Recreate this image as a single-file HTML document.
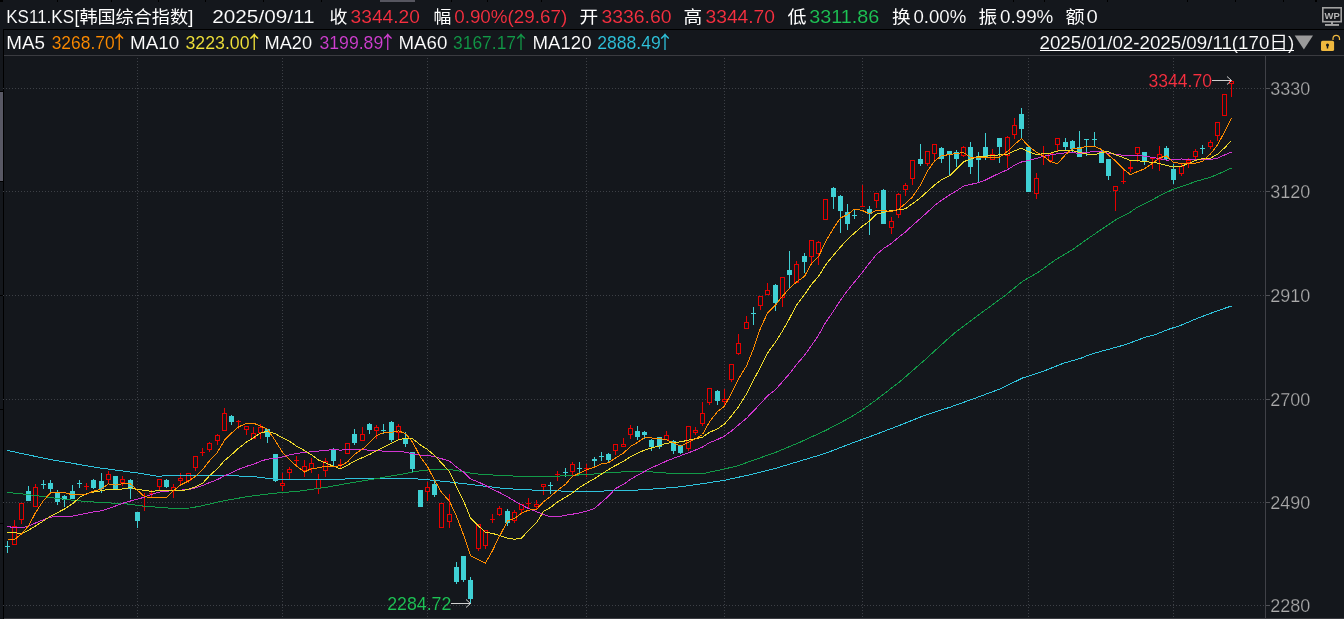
<!DOCTYPE html>
<html lang="zh"><head><meta charset="utf-8"><title>KS11.KS</title>
<style>html,body{margin:0;padding:0;background:#14171c;overflow:hidden}svg{display:block}text{font-family:"Liberation Sans","Noto Sans CJK SC",sans-serif;font-size:18px;stroke:#14171c;stroke-width:0.1px}.cj{font-family:"Noto Sans CJK SC","Liberation Sans",sans-serif;font-size:17.3px;stroke:none}.r1{font-size:19px}</style></head><body>
<svg width="1344" height="619" viewBox="0 0 1344 619">
<rect x="0" y="0" width="1344" height="619" fill="#14171c"/>
<g shape-rendering="crispEdges">
<rect x="0" y="0" width="3" height="2" fill="#000"/>
<rect x="57" y="0" width="1" height="2" fill="#000"/>
<rect x="111" y="0" width="1" height="2" fill="#000"/>
<rect x="158" y="0" width="1" height="2" fill="#000"/>
<rect x="205" y="0" width="1" height="2" fill="#000"/>
<rect x="263" y="0" width="1" height="2" fill="#000"/>
<rect x="321" y="0" width="1" height="2" fill="#000"/>
<rect x="451" y="0" width="1" height="2" fill="#000"/>
<rect x="487" y="0" width="1" height="2" fill="#000"/>
<rect x="541" y="0" width="1" height="2" fill="#000"/>
<rect x="1013" y="0" width="1" height="2" fill="#000"/>
<rect x="1044" y="0" width="1" height="2" fill="#000"/>
<rect x="1107" y="0" width="1" height="2" fill="#000"/>
<rect x="1187" y="0" width="1" height="2" fill="#000"/>
<rect x="1235" y="0" width="1" height="2" fill="#000"/>
<rect x="1283" y="0" width="1" height="2" fill="#000"/>
<rect x="1315" y="0" width="1" height="2" fill="#000"/>
<rect x="1316" y="0" width="1" height="2" fill="#000"/>
<rect x="380" y="0" width="35" height="2" fill="#565660"/>
<rect x="3" y="29" width="1341" height="1" fill="#000"/>
<rect x="3" y="29" width="1" height="590" fill="#000"/>
<rect x="0" y="92" width="3" height="89" fill="#585864"/>
<rect x="0" y="409" width="3" height="1" fill="#000"/>
<rect x="0" y="295" width="3" height="1" fill="#000"/>
<rect x="0" y="181" width="3" height="1" fill="#000"/>
<rect x="0" y="91" width="3" height="1" fill="#000"/>
<rect x="0" y="523" width="3" height="1" fill="#000"/>
<rect x="4" y="55" width="1340" height="1" fill="#3a3b40"/>
<rect x="4" y="618" width="1340" height="1" fill="#3a3b40"/>
<rect x="1265" y="56" width="1" height="562" fill="#404147"/>
</g>
<g stroke="#3d4046" stroke-width="1" stroke-dasharray="1 2" shape-rendering="crispEdges" fill="none">
<line x1="3" y1="88.5" x2="1265" y2="88.5"/>
<line x1="3" y1="191.5" x2="1265" y2="191.5"/>
<line x1="3" y1="295.5" x2="1265" y2="295.5"/>
<line x1="3" y1="399.5" x2="1265" y2="399.5"/>
<line x1="3" y1="502.5" x2="1265" y2="502.5"/>
<line x1="3" y1="605.5" x2="1265" y2="605.5"/>
<line x1="137.5" y1="58" x2="137.5" y2="618"/>
<line x1="282.5" y1="58" x2="282.5" y2="618"/>
<line x1="427.5" y1="58" x2="427.5" y2="618"/>
<line x1="586.5" y1="58" x2="586.5" y2="618"/>
<line x1="724.5" y1="58" x2="724.5" y2="618"/>
<line x1="862.5" y1="58" x2="862.5" y2="618"/>
<line x1="1028.5" y1="58" x2="1028.5" y2="618"/>
<line x1="1173.5" y1="58" x2="1173.5" y2="618"/>
</g>
<g shape-rendering="crispEdges">
<rect x="1266" y="88" width="4" height="1" fill="#505156"/>
<rect x="1266" y="191" width="4" height="1" fill="#505156"/>
<rect x="1266" y="295" width="4" height="1" fill="#505156"/>
<rect x="1266" y="399" width="4" height="1" fill="#505156"/>
<rect x="1266" y="502" width="4" height="1" fill="#505156"/>
<rect x="1266" y="605" width="4" height="1" fill="#505156"/>
</g>
<text x="1270.3" y="95.0" fill="#ababab" style="stroke-width:0.25px">3330</text>
<text x="1270.3" y="198.0" fill="#ababab" style="stroke-width:0.25px">3120</text>
<text x="1270.3" y="302.0" fill="#ababab" style="stroke-width:0.25px">2910</text>
<text x="1270.3" y="406.0" fill="#ababab" style="stroke-width:0.25px">2700</text>
<text x="1270.3" y="509.0" fill="#ababab" style="stroke-width:0.25px">2490</text>
<text x="1270.3" y="612.0" fill="#ababab" style="stroke-width:0.25px">2280</text>
<g shape-rendering="crispEdges">
<rect x="7" y="541" width="1" height="12" fill="#3fd0d4"/>
<rect x="5" y="546" width="5" height="1" fill="#3fd0d4"/>
<rect x="14" y="520" width="1" height="6" fill="#e80000"/>
<rect x="12" y="526" width="5" height="19" fill="#e80000"/>
<rect x="13" y="527" width="3" height="17" fill="#14171c"/>
<rect x="21" y="520" width="1" height="4" fill="#e80000"/>
<rect x="19" y="503" width="5" height="17" fill="#e80000"/>
<rect x="20" y="504" width="3" height="15" fill="#14171c"/>
<rect x="28" y="486" width="1" height="15" fill="#3fd0d4"/>
<rect x="26" y="491" width="5" height="10" fill="#3fd0d4"/>
<rect x="35" y="484" width="1" height="3" fill="#e80000"/>
<rect x="33" y="487" width="5" height="20" fill="#e80000"/>
<rect x="34" y="488" width="3" height="18" fill="#14171c"/>
<rect x="43" y="480" width="1" height="9" fill="#3fd0d4"/>
<rect x="41" y="484" width="5" height="1" fill="#3fd0d4"/>
<rect x="50" y="480" width="1" height="14" fill="#3fd0d4"/>
<rect x="48" y="483" width="5" height="6" fill="#3fd0d4"/>
<rect x="57" y="490" width="1" height="15" fill="#3fd0d4"/>
<rect x="55" y="493" width="5" height="9" fill="#3fd0d4"/>
<rect x="64" y="495" width="1" height="12" fill="#3fd0d4"/>
<rect x="62" y="496" width="5" height="4" fill="#3fd0d4"/>
<rect x="72" y="485" width="1" height="14" fill="#3fd0d4"/>
<rect x="70" y="491" width="5" height="8" fill="#3fd0d4"/>
<rect x="79" y="480" width="1" height="8" fill="#3fd0d4"/>
<rect x="77" y="483" width="5" height="1" fill="#3fd0d4"/>
<rect x="86" y="483" width="1" height="7" fill="#e80000"/>
<rect x="84" y="486" width="5" height="1" fill="#e80000"/>
<rect x="93" y="479" width="1" height="10" fill="#3fd0d4"/>
<rect x="91" y="480" width="5" height="8" fill="#3fd0d4"/>
<rect x="101" y="473" width="1" height="20" fill="#3fd0d4"/>
<rect x="99" y="481" width="5" height="8" fill="#3fd0d4"/>
<rect x="108" y="471" width="1" height="3" fill="#e80000"/>
<rect x="108" y="480" width="1" height="4" fill="#e80000"/>
<rect x="106" y="474" width="5" height="6" fill="#e80000"/>
<rect x="107" y="475" width="3" height="4" fill="#14171c"/>
<rect x="115" y="476" width="1" height="14" fill="#3fd0d4"/>
<rect x="113" y="476" width="5" height="14" fill="#3fd0d4"/>
<rect x="122" y="476" width="1" height="3" fill="#e80000"/>
<rect x="122" y="483" width="1" height="3" fill="#e80000"/>
<rect x="120" y="479" width="5" height="4" fill="#e80000"/>
<rect x="121" y="480" width="3" height="2" fill="#14171c"/>
<rect x="130" y="479" width="1" height="20" fill="#3fd0d4"/>
<rect x="128" y="480" width="5" height="9" fill="#3fd0d4"/>
<rect x="137" y="512" width="1" height="16" fill="#3fd0d4"/>
<rect x="135" y="512" width="5" height="9" fill="#3fd0d4"/>
<rect x="144" y="493" width="1" height="18" fill="#e80000"/>
<rect x="142" y="506" width="5" height="1" fill="#e80000"/>
<rect x="151" y="490" width="1" height="7" fill="#e80000"/>
<rect x="149" y="493" width="5" height="1" fill="#e80000"/>
<rect x="159" y="487" width="1" height="3" fill="#e80000"/>
<rect x="157" y="479" width="5" height="8" fill="#e80000"/>
<rect x="158" y="480" width="3" height="6" fill="#14171c"/>
<rect x="166" y="479" width="1" height="9" fill="#3fd0d4"/>
<rect x="164" y="480" width="5" height="7" fill="#3fd0d4"/>
<rect x="173" y="484" width="1" height="3" fill="#e80000"/>
<rect x="173" y="491" width="1" height="7" fill="#e80000"/>
<rect x="171" y="487" width="5" height="4" fill="#e80000"/>
<rect x="172" y="488" width="3" height="2" fill="#14171c"/>
<rect x="180" y="473" width="1" height="5" fill="#e80000"/>
<rect x="180" y="481" width="1" height="3" fill="#e80000"/>
<rect x="178" y="478" width="5" height="3" fill="#e80000"/>
<rect x="179" y="479" width="3" height="1" fill="#14171c"/>
<rect x="188" y="481" width="1" height="2" fill="#e80000"/>
<rect x="186" y="473" width="5" height="8" fill="#e80000"/>
<rect x="187" y="474" width="3" height="6" fill="#14171c"/>
<rect x="195" y="468" width="1" height="3" fill="#e80000"/>
<rect x="193" y="456" width="5" height="12" fill="#e80000"/>
<rect x="194" y="457" width="3" height="10" fill="#14171c"/>
<rect x="202" y="448" width="1" height="8" fill="#e80000"/>
<rect x="200" y="452" width="5" height="1" fill="#e80000"/>
<rect x="209" y="442" width="1" height="1" fill="#e80000"/>
<rect x="209" y="450" width="1" height="2" fill="#e80000"/>
<rect x="207" y="443" width="5" height="7" fill="#e80000"/>
<rect x="208" y="444" width="3" height="5" fill="#14171c"/>
<rect x="217" y="434" width="1" height="1" fill="#e80000"/>
<rect x="217" y="441" width="1" height="4" fill="#e80000"/>
<rect x="215" y="435" width="5" height="6" fill="#e80000"/>
<rect x="216" y="436" width="3" height="4" fill="#14171c"/>
<rect x="224" y="408" width="1" height="5" fill="#e80000"/>
<rect x="222" y="413" width="5" height="18" fill="#e80000"/>
<rect x="223" y="414" width="3" height="16" fill="#14171c"/>
<rect x="231" y="415" width="1" height="10" fill="#3fd0d4"/>
<rect x="229" y="416" width="5" height="6" fill="#3fd0d4"/>
<rect x="238" y="420" width="1" height="9" fill="#e80000"/>
<rect x="236" y="421" width="5" height="1" fill="#e80000"/>
<rect x="246" y="430" width="1" height="5" fill="#e80000"/>
<rect x="244" y="426" width="5" height="4" fill="#e80000"/>
<rect x="245" y="427" width="3" height="2" fill="#14171c"/>
<rect x="253" y="427" width="1" height="6" fill="#e80000"/>
<rect x="251" y="433" width="5" height="6" fill="#e80000"/>
<rect x="252" y="434" width="3" height="4" fill="#14171c"/>
<rect x="260" y="424" width="1" height="3" fill="#e80000"/>
<rect x="260" y="433" width="1" height="6" fill="#e80000"/>
<rect x="258" y="427" width="5" height="6" fill="#e80000"/>
<rect x="259" y="428" width="3" height="4" fill="#14171c"/>
<rect x="267" y="429" width="1" height="14" fill="#3fd0d4"/>
<rect x="265" y="429" width="5" height="8" fill="#3fd0d4"/>
<rect x="275" y="454" width="1" height="28" fill="#3fd0d4"/>
<rect x="273" y="454" width="5" height="27" fill="#3fd0d4"/>
<rect x="282" y="473" width="1" height="10" fill="#e80000"/>
<rect x="282" y="486" width="1" height="5" fill="#e80000"/>
<rect x="280" y="483" width="5" height="3" fill="#e80000"/>
<rect x="281" y="484" width="3" height="1" fill="#14171c"/>
<rect x="289" y="467" width="1" height="2" fill="#e80000"/>
<rect x="289" y="473" width="1" height="6" fill="#e80000"/>
<rect x="287" y="469" width="5" height="4" fill="#e80000"/>
<rect x="288" y="470" width="3" height="2" fill="#14171c"/>
<rect x="296" y="456" width="1" height="9" fill="#e80000"/>
<rect x="294" y="460" width="5" height="1" fill="#e80000"/>
<rect x="304" y="460" width="1" height="6" fill="#e80000"/>
<rect x="304" y="471" width="1" height="6" fill="#e80000"/>
<rect x="302" y="466" width="5" height="5" fill="#e80000"/>
<rect x="303" y="467" width="3" height="3" fill="#14171c"/>
<rect x="311" y="458" width="1" height="5" fill="#e80000"/>
<rect x="311" y="469" width="1" height="4" fill="#e80000"/>
<rect x="309" y="463" width="5" height="6" fill="#e80000"/>
<rect x="310" y="464" width="3" height="4" fill="#14171c"/>
<rect x="318" y="474" width="1" height="5" fill="#e80000"/>
<rect x="318" y="489" width="1" height="5" fill="#e80000"/>
<rect x="316" y="479" width="5" height="10" fill="#e80000"/>
<rect x="317" y="480" width="3" height="8" fill="#14171c"/>
<rect x="325" y="458" width="1" height="3" fill="#e80000"/>
<rect x="325" y="471" width="1" height="6" fill="#e80000"/>
<rect x="323" y="461" width="5" height="10" fill="#e80000"/>
<rect x="324" y="462" width="3" height="8" fill="#14171c"/>
<rect x="333" y="448" width="1" height="18" fill="#3fd0d4"/>
<rect x="331" y="449" width="5" height="12" fill="#3fd0d4"/>
<rect x="340" y="459" width="1" height="9" fill="#e80000"/>
<rect x="338" y="464" width="5" height="1" fill="#e80000"/>
<rect x="345" y="443" width="5" height="11" fill="#e80000"/>
<rect x="346" y="444" width="3" height="9" fill="#14171c"/>
<rect x="354" y="429" width="1" height="16" fill="#3fd0d4"/>
<rect x="352" y="434" width="5" height="9" fill="#3fd0d4"/>
<rect x="362" y="427" width="1" height="7" fill="#e80000"/>
<rect x="360" y="434" width="5" height="7" fill="#e80000"/>
<rect x="361" y="435" width="3" height="5" fill="#14171c"/>
<rect x="369" y="423" width="1" height="11" fill="#3fd0d4"/>
<rect x="367" y="424" width="5" height="6" fill="#3fd0d4"/>
<rect x="376" y="425" width="1" height="2" fill="#e80000"/>
<rect x="376" y="431" width="1" height="8" fill="#e80000"/>
<rect x="374" y="427" width="5" height="4" fill="#e80000"/>
<rect x="375" y="428" width="3" height="2" fill="#14171c"/>
<rect x="383" y="424" width="1" height="10" fill="#3fd0d4"/>
<rect x="381" y="430" width="5" height="1" fill="#3fd0d4"/>
<rect x="391" y="421" width="1" height="21" fill="#3fd0d4"/>
<rect x="389" y="422" width="5" height="18" fill="#3fd0d4"/>
<rect x="398" y="424" width="1" height="2" fill="#e80000"/>
<rect x="398" y="433" width="1" height="6" fill="#e80000"/>
<rect x="396" y="426" width="5" height="7" fill="#e80000"/>
<rect x="397" y="427" width="3" height="5" fill="#14171c"/>
<rect x="405" y="432" width="1" height="15" fill="#3fd0d4"/>
<rect x="403" y="438" width="5" height="6" fill="#3fd0d4"/>
<rect x="412" y="452" width="1" height="21" fill="#3fd0d4"/>
<rect x="410" y="452" width="5" height="17" fill="#3fd0d4"/>
<rect x="420" y="490" width="1" height="17" fill="#3fd0d4"/>
<rect x="418" y="490" width="5" height="17" fill="#3fd0d4"/>
<rect x="427" y="482" width="1" height="5" fill="#e80000"/>
<rect x="427" y="492" width="1" height="9" fill="#e80000"/>
<rect x="425" y="487" width="5" height="5" fill="#e80000"/>
<rect x="426" y="488" width="3" height="3" fill="#14171c"/>
<rect x="434" y="481" width="1" height="16" fill="#3fd0d4"/>
<rect x="432" y="484" width="5" height="11" fill="#3fd0d4"/>
<rect x="439" y="503" width="5" height="25" fill="#e80000"/>
<rect x="440" y="504" width="3" height="23" fill="#14171c"/>
<rect x="449" y="494" width="1" height="20" fill="#e80000"/>
<rect x="449" y="522" width="1" height="6" fill="#e80000"/>
<rect x="447" y="514" width="5" height="8" fill="#e80000"/>
<rect x="448" y="515" width="3" height="6" fill="#14171c"/>
<rect x="456" y="562" width="1" height="22" fill="#3fd0d4"/>
<rect x="454" y="567" width="5" height="15" fill="#3fd0d4"/>
<rect x="463" y="556" width="1" height="26" fill="#3fd0d4"/>
<rect x="461" y="556" width="5" height="24" fill="#3fd0d4"/>
<rect x="470" y="577" width="1" height="27" fill="#3fd0d4"/>
<rect x="468" y="580" width="5" height="19" fill="#3fd0d4"/>
<rect x="478" y="549" width="1" height="2" fill="#e80000"/>
<rect x="476" y="524" width="5" height="25" fill="#e80000"/>
<rect x="477" y="525" width="3" height="23" fill="#14171c"/>
<rect x="485" y="546" width="1" height="3" fill="#e80000"/>
<rect x="483" y="530" width="5" height="16" fill="#e80000"/>
<rect x="484" y="531" width="3" height="14" fill="#14171c"/>
<rect x="492" y="514" width="1" height="9" fill="#e80000"/>
<rect x="490" y="519" width="5" height="1" fill="#e80000"/>
<rect x="499" y="506" width="1" height="2" fill="#e80000"/>
<rect x="499" y="515" width="1" height="1" fill="#e80000"/>
<rect x="497" y="508" width="5" height="7" fill="#e80000"/>
<rect x="498" y="509" width="3" height="5" fill="#14171c"/>
<rect x="507" y="509" width="1" height="17" fill="#3fd0d4"/>
<rect x="505" y="511" width="5" height="12" fill="#3fd0d4"/>
<rect x="514" y="510" width="1" height="2" fill="#e80000"/>
<rect x="514" y="521" width="1" height="2" fill="#e80000"/>
<rect x="512" y="512" width="5" height="9" fill="#e80000"/>
<rect x="513" y="513" width="3" height="7" fill="#14171c"/>
<rect x="521" y="510" width="1" height="4" fill="#e80000"/>
<rect x="519" y="504" width="5" height="6" fill="#e80000"/>
<rect x="520" y="505" width="3" height="4" fill="#14171c"/>
<rect x="528" y="498" width="1" height="11" fill="#e80000"/>
<rect x="526" y="503" width="5" height="1" fill="#e80000"/>
<rect x="536" y="500" width="1" height="4" fill="#e80000"/>
<rect x="536" y="507" width="1" height="3" fill="#e80000"/>
<rect x="534" y="504" width="5" height="3" fill="#e80000"/>
<rect x="535" y="505" width="3" height="1" fill="#14171c"/>
<rect x="543" y="487" width="1" height="8" fill="#e80000"/>
<rect x="541" y="484" width="5" height="3" fill="#e80000"/>
<rect x="542" y="485" width="3" height="1" fill="#14171c"/>
<rect x="550" y="482" width="1" height="12" fill="#3fd0d4"/>
<rect x="548" y="485" width="5" height="1" fill="#3fd0d4"/>
<rect x="557" y="471" width="1" height="10" fill="#e80000"/>
<rect x="555" y="474" width="5" height="1" fill="#e80000"/>
<rect x="565" y="468" width="1" height="9" fill="#3fd0d4"/>
<rect x="563" y="472" width="5" height="1" fill="#3fd0d4"/>
<rect x="572" y="462" width="1" height="2" fill="#e80000"/>
<rect x="572" y="472" width="1" height="3" fill="#e80000"/>
<rect x="570" y="464" width="5" height="8" fill="#e80000"/>
<rect x="571" y="465" width="3" height="6" fill="#14171c"/>
<rect x="579" y="462" width="1" height="13" fill="#3fd0d4"/>
<rect x="577" y="468" width="5" height="1" fill="#3fd0d4"/>
<rect x="586" y="464" width="1" height="13" fill="#e80000"/>
<rect x="584" y="468" width="5" height="1" fill="#e80000"/>
<rect x="594" y="457" width="1" height="10" fill="#3fd0d4"/>
<rect x="592" y="459" width="5" height="2" fill="#3fd0d4"/>
<rect x="601" y="452" width="1" height="9" fill="#3fd0d4"/>
<rect x="599" y="456" width="5" height="1" fill="#3fd0d4"/>
<rect x="608" y="453" width="1" height="9" fill="#3fd0d4"/>
<rect x="606" y="454" width="5" height="6" fill="#3fd0d4"/>
<rect x="615" y="451" width="1" height="4" fill="#e80000"/>
<rect x="613" y="444" width="5" height="7" fill="#e80000"/>
<rect x="614" y="445" width="3" height="5" fill="#14171c"/>
<rect x="623" y="438" width="1" height="6" fill="#e80000"/>
<rect x="621" y="444" width="5" height="3" fill="#e80000"/>
<rect x="622" y="445" width="3" height="1" fill="#14171c"/>
<rect x="630" y="425" width="1" height="3" fill="#e80000"/>
<rect x="630" y="435" width="1" height="4" fill="#e80000"/>
<rect x="628" y="428" width="5" height="7" fill="#e80000"/>
<rect x="629" y="429" width="3" height="5" fill="#14171c"/>
<rect x="637" y="426" width="1" height="14" fill="#3fd0d4"/>
<rect x="635" y="431" width="5" height="6" fill="#3fd0d4"/>
<rect x="644" y="431" width="1" height="8" fill="#3fd0d4"/>
<rect x="642" y="432" width="5" height="3" fill="#3fd0d4"/>
<rect x="651" y="439" width="1" height="12" fill="#3fd0d4"/>
<rect x="649" y="440" width="5" height="7" fill="#3fd0d4"/>
<rect x="659" y="437" width="1" height="12" fill="#3fd0d4"/>
<rect x="657" y="437" width="5" height="10" fill="#3fd0d4"/>
<rect x="666" y="431" width="1" height="4" fill="#e80000"/>
<rect x="664" y="435" width="5" height="5" fill="#e80000"/>
<rect x="665" y="436" width="3" height="3" fill="#14171c"/>
<rect x="673" y="440" width="1" height="14" fill="#3fd0d4"/>
<rect x="671" y="441" width="5" height="10" fill="#3fd0d4"/>
<rect x="680" y="445" width="1" height="9" fill="#3fd0d4"/>
<rect x="678" y="445" width="5" height="8" fill="#3fd0d4"/>
<rect x="688" y="449" width="1" height="2" fill="#e80000"/>
<rect x="686" y="426" width="5" height="23" fill="#e80000"/>
<rect x="687" y="427" width="3" height="21" fill="#14171c"/>
<rect x="695" y="427" width="1" height="3" fill="#e80000"/>
<rect x="695" y="433" width="1" height="2" fill="#e80000"/>
<rect x="693" y="430" width="5" height="3" fill="#e80000"/>
<rect x="694" y="431" width="3" height="1" fill="#14171c"/>
<rect x="702" y="402" width="1" height="11" fill="#e80000"/>
<rect x="702" y="424" width="1" height="2" fill="#e80000"/>
<rect x="700" y="413" width="5" height="11" fill="#e80000"/>
<rect x="701" y="414" width="3" height="9" fill="#14171c"/>
<rect x="709" y="403" width="1" height="2" fill="#e80000"/>
<rect x="707" y="388" width="5" height="15" fill="#e80000"/>
<rect x="708" y="389" width="3" height="13" fill="#14171c"/>
<rect x="717" y="390" width="1" height="15" fill="#3fd0d4"/>
<rect x="715" y="391" width="5" height="10" fill="#3fd0d4"/>
<rect x="724" y="389" width="1" height="10" fill="#e80000"/>
<rect x="724" y="402" width="1" height="5" fill="#e80000"/>
<rect x="722" y="399" width="5" height="3" fill="#e80000"/>
<rect x="723" y="400" width="3" height="1" fill="#14171c"/>
<rect x="731" y="380" width="1" height="2" fill="#e80000"/>
<rect x="729" y="364" width="5" height="16" fill="#e80000"/>
<rect x="730" y="365" width="3" height="14" fill="#14171c"/>
<rect x="738" y="334" width="1" height="9" fill="#e80000"/>
<rect x="738" y="354" width="1" height="1" fill="#e80000"/>
<rect x="736" y="343" width="5" height="11" fill="#e80000"/>
<rect x="737" y="344" width="3" height="9" fill="#14171c"/>
<rect x="746" y="316" width="1" height="6" fill="#e80000"/>
<rect x="744" y="322" width="5" height="7" fill="#e80000"/>
<rect x="745" y="323" width="3" height="5" fill="#14171c"/>
<rect x="753" y="307" width="1" height="18" fill="#3fd0d4"/>
<rect x="751" y="313" width="5" height="1" fill="#3fd0d4"/>
<rect x="760" y="306" width="1" height="4" fill="#e80000"/>
<rect x="758" y="296" width="5" height="10" fill="#e80000"/>
<rect x="759" y="297" width="3" height="8" fill="#14171c"/>
<rect x="767" y="283" width="1" height="7" fill="#e80000"/>
<rect x="765" y="290" width="5" height="5" fill="#e80000"/>
<rect x="766" y="291" width="3" height="3" fill="#14171c"/>
<rect x="775" y="284" width="1" height="27" fill="#3fd0d4"/>
<rect x="773" y="285" width="5" height="18" fill="#3fd0d4"/>
<rect x="782" y="298" width="1" height="9" fill="#e80000"/>
<rect x="780" y="277" width="5" height="21" fill="#e80000"/>
<rect x="781" y="278" width="3" height="19" fill="#14171c"/>
<rect x="789" y="251" width="1" height="37" fill="#3fd0d4"/>
<rect x="787" y="270" width="5" height="5" fill="#3fd0d4"/>
<rect x="796" y="261" width="1" height="3" fill="#e80000"/>
<rect x="794" y="264" width="5" height="19" fill="#e80000"/>
<rect x="795" y="265" width="3" height="17" fill="#14171c"/>
<rect x="804" y="253" width="1" height="20" fill="#3fd0d4"/>
<rect x="802" y="256" width="5" height="6" fill="#3fd0d4"/>
<rect x="811" y="257" width="1" height="7" fill="#e80000"/>
<rect x="809" y="240" width="5" height="17" fill="#e80000"/>
<rect x="810" y="241" width="3" height="15" fill="#14171c"/>
<rect x="818" y="241" width="1" height="1" fill="#e80000"/>
<rect x="818" y="254" width="1" height="11" fill="#e80000"/>
<rect x="816" y="242" width="5" height="12" fill="#e80000"/>
<rect x="817" y="243" width="3" height="10" fill="#14171c"/>
<rect x="823" y="199" width="5" height="21" fill="#e80000"/>
<rect x="824" y="200" width="3" height="19" fill="#14171c"/>
<rect x="833" y="187" width="1" height="22" fill="#3fd0d4"/>
<rect x="831" y="188" width="5" height="9" fill="#3fd0d4"/>
<rect x="840" y="195" width="1" height="38" fill="#3fd0d4"/>
<rect x="838" y="196" width="5" height="15" fill="#3fd0d4"/>
<rect x="847" y="204" width="1" height="26" fill="#3fd0d4"/>
<rect x="845" y="212" width="5" height="12" fill="#3fd0d4"/>
<rect x="854" y="210" width="1" height="9" fill="#3fd0d4"/>
<rect x="852" y="215" width="5" height="1" fill="#3fd0d4"/>
<rect x="862" y="185" width="1" height="22" fill="#e80000"/>
<rect x="860" y="206" width="5" height="1" fill="#e80000"/>
<rect x="869" y="206" width="1" height="29" fill="#3fd0d4"/>
<rect x="867" y="209" width="5" height="5" fill="#3fd0d4"/>
<rect x="876" y="201" width="1" height="7" fill="#e80000"/>
<rect x="874" y="193" width="5" height="8" fill="#e80000"/>
<rect x="875" y="194" width="3" height="6" fill="#14171c"/>
<rect x="883" y="189" width="1" height="35" fill="#3fd0d4"/>
<rect x="881" y="190" width="5" height="34" fill="#3fd0d4"/>
<rect x="891" y="217" width="1" height="4" fill="#e80000"/>
<rect x="891" y="228" width="1" height="6" fill="#e80000"/>
<rect x="889" y="221" width="5" height="7" fill="#e80000"/>
<rect x="890" y="222" width="3" height="5" fill="#14171c"/>
<rect x="898" y="193" width="1" height="1" fill="#e80000"/>
<rect x="898" y="215" width="1" height="3" fill="#e80000"/>
<rect x="896" y="194" width="5" height="21" fill="#e80000"/>
<rect x="897" y="195" width="3" height="19" fill="#14171c"/>
<rect x="905" y="183" width="1" height="2" fill="#e80000"/>
<rect x="905" y="190" width="1" height="6" fill="#e80000"/>
<rect x="903" y="185" width="5" height="5" fill="#e80000"/>
<rect x="904" y="186" width="3" height="3" fill="#14171c"/>
<rect x="912" y="179" width="1" height="6" fill="#e80000"/>
<rect x="910" y="160" width="5" height="19" fill="#e80000"/>
<rect x="911" y="161" width="3" height="17" fill="#14171c"/>
<rect x="920" y="144" width="1" height="22" fill="#3fd0d4"/>
<rect x="918" y="159" width="5" height="5" fill="#3fd0d4"/>
<rect x="927" y="164" width="1" height="2" fill="#e80000"/>
<rect x="925" y="151" width="5" height="13" fill="#e80000"/>
<rect x="926" y="152" width="3" height="11" fill="#14171c"/>
<rect x="934" y="154" width="1" height="7" fill="#e80000"/>
<rect x="932" y="144" width="5" height="10" fill="#e80000"/>
<rect x="933" y="145" width="3" height="8" fill="#14171c"/>
<rect x="941" y="147" width="1" height="16" fill="#3fd0d4"/>
<rect x="939" y="148" width="5" height="11" fill="#3fd0d4"/>
<rect x="949" y="151" width="1" height="24" fill="#3fd0d4"/>
<rect x="947" y="151" width="5" height="4" fill="#3fd0d4"/>
<rect x="956" y="150" width="1" height="17" fill="#3fd0d4"/>
<rect x="954" y="152" width="5" height="7" fill="#3fd0d4"/>
<rect x="963" y="146" width="1" height="1" fill="#e80000"/>
<rect x="963" y="156" width="1" height="1" fill="#e80000"/>
<rect x="961" y="147" width="5" height="9" fill="#e80000"/>
<rect x="962" y="148" width="3" height="7" fill="#14171c"/>
<rect x="970" y="142" width="1" height="32" fill="#3fd0d4"/>
<rect x="968" y="147" width="5" height="20" fill="#3fd0d4"/>
<rect x="978" y="152" width="1" height="30" fill="#3fd0d4"/>
<rect x="976" y="156" width="5" height="4" fill="#3fd0d4"/>
<rect x="985" y="133" width="1" height="27" fill="#3fd0d4"/>
<rect x="983" y="147" width="5" height="11" fill="#3fd0d4"/>
<rect x="992" y="149" width="1" height="5" fill="#e80000"/>
<rect x="990" y="154" width="5" height="6" fill="#e80000"/>
<rect x="991" y="155" width="3" height="4" fill="#14171c"/>
<rect x="999" y="138" width="1" height="25" fill="#3fd0d4"/>
<rect x="997" y="138" width="5" height="9" fill="#3fd0d4"/>
<rect x="1007" y="136" width="1" height="1" fill="#e80000"/>
<rect x="1007" y="156" width="1" height="12" fill="#e80000"/>
<rect x="1005" y="137" width="5" height="19" fill="#e80000"/>
<rect x="1006" y="138" width="3" height="17" fill="#14171c"/>
<rect x="1014" y="118" width="1" height="7" fill="#e80000"/>
<rect x="1014" y="135" width="1" height="4" fill="#e80000"/>
<rect x="1012" y="125" width="5" height="10" fill="#e80000"/>
<rect x="1013" y="126" width="3" height="8" fill="#14171c"/>
<rect x="1021" y="108" width="1" height="31" fill="#3fd0d4"/>
<rect x="1019" y="114" width="5" height="15" fill="#3fd0d4"/>
<rect x="1028" y="147" width="1" height="45" fill="#3fd0d4"/>
<rect x="1026" y="147" width="5" height="45" fill="#3fd0d4"/>
<rect x="1036" y="173" width="1" height="5" fill="#e80000"/>
<rect x="1036" y="194" width="1" height="5" fill="#e80000"/>
<rect x="1034" y="178" width="5" height="16" fill="#e80000"/>
<rect x="1035" y="179" width="3" height="14" fill="#14171c"/>
<rect x="1043" y="146" width="1" height="19" fill="#e80000"/>
<rect x="1041" y="156" width="5" height="1" fill="#e80000"/>
<rect x="1050" y="161" width="1" height="2" fill="#e80000"/>
<rect x="1048" y="153" width="5" height="8" fill="#e80000"/>
<rect x="1049" y="154" width="3" height="6" fill="#14171c"/>
<rect x="1057" y="145" width="1" height="6" fill="#e80000"/>
<rect x="1055" y="138" width="5" height="7" fill="#e80000"/>
<rect x="1056" y="139" width="3" height="5" fill="#14171c"/>
<rect x="1065" y="138" width="1" height="13" fill="#3fd0d4"/>
<rect x="1063" y="142" width="5" height="5" fill="#3fd0d4"/>
<rect x="1072" y="140" width="1" height="13" fill="#3fd0d4"/>
<rect x="1070" y="141" width="5" height="8" fill="#3fd0d4"/>
<rect x="1079" y="131" width="1" height="26" fill="#3fd0d4"/>
<rect x="1077" y="147" width="5" height="10" fill="#3fd0d4"/>
<rect x="1086" y="139" width="1" height="17" fill="#3fd0d4"/>
<rect x="1084" y="139" width="5" height="1" fill="#3fd0d4"/>
<rect x="1094" y="132" width="1" height="15" fill="#3fd0d4"/>
<rect x="1092" y="139" width="5" height="1" fill="#3fd0d4"/>
<rect x="1101" y="149" width="1" height="14" fill="#3fd0d4"/>
<rect x="1099" y="151" width="5" height="12" fill="#3fd0d4"/>
<rect x="1108" y="159" width="1" height="21" fill="#3fd0d4"/>
<rect x="1106" y="159" width="5" height="17" fill="#3fd0d4"/>
<rect x="1115" y="191" width="1" height="20" fill="#e80000"/>
<rect x="1113" y="186" width="5" height="5" fill="#e80000"/>
<rect x="1114" y="187" width="3" height="3" fill="#14171c"/>
<rect x="1123" y="168" width="1" height="16" fill="#e80000"/>
<rect x="1121" y="181" width="5" height="1" fill="#e80000"/>
<rect x="1130" y="161" width="1" height="6" fill="#e80000"/>
<rect x="1130" y="169" width="1" height="3" fill="#e80000"/>
<rect x="1128" y="167" width="5" height="2" fill="#e80000"/>
<rect x="1137" y="154" width="1" height="8" fill="#e80000"/>
<rect x="1135" y="147" width="5" height="7" fill="#e80000"/>
<rect x="1136" y="148" width="3" height="5" fill="#14171c"/>
<rect x="1144" y="152" width="1" height="13" fill="#3fd0d4"/>
<rect x="1142" y="152" width="5" height="10" fill="#3fd0d4"/>
<rect x="1152" y="158" width="1" height="11" fill="#e80000"/>
<rect x="1150" y="158" width="5" height="1" fill="#e80000"/>
<rect x="1159" y="146" width="1" height="8" fill="#e80000"/>
<rect x="1159" y="160" width="1" height="11" fill="#e80000"/>
<rect x="1157" y="154" width="5" height="6" fill="#e80000"/>
<rect x="1158" y="155" width="3" height="4" fill="#14171c"/>
<rect x="1166" y="146" width="1" height="14" fill="#3fd0d4"/>
<rect x="1164" y="148" width="5" height="11" fill="#3fd0d4"/>
<rect x="1173" y="164" width="1" height="20" fill="#3fd0d4"/>
<rect x="1171" y="169" width="5" height="11" fill="#3fd0d4"/>
<rect x="1181" y="164" width="1" height="2" fill="#e80000"/>
<rect x="1181" y="174" width="1" height="2" fill="#e80000"/>
<rect x="1179" y="166" width="5" height="8" fill="#e80000"/>
<rect x="1180" y="167" width="3" height="6" fill="#14171c"/>
<rect x="1188" y="158" width="1" height="2" fill="#e80000"/>
<rect x="1188" y="163" width="1" height="5" fill="#e80000"/>
<rect x="1186" y="160" width="5" height="3" fill="#e80000"/>
<rect x="1187" y="161" width="3" height="1" fill="#14171c"/>
<rect x="1195" y="149" width="1" height="2" fill="#e80000"/>
<rect x="1195" y="157" width="1" height="3" fill="#e80000"/>
<rect x="1193" y="151" width="5" height="6" fill="#e80000"/>
<rect x="1194" y="152" width="3" height="4" fill="#14171c"/>
<rect x="1202" y="145" width="1" height="9" fill="#3fd0d4"/>
<rect x="1200" y="148" width="5" height="1" fill="#3fd0d4"/>
<rect x="1210" y="140" width="1" height="2" fill="#e80000"/>
<rect x="1210" y="147" width="1" height="2" fill="#e80000"/>
<rect x="1208" y="142" width="5" height="5" fill="#e80000"/>
<rect x="1209" y="143" width="3" height="3" fill="#14171c"/>
<rect x="1217" y="136" width="1" height="5" fill="#e80000"/>
<rect x="1215" y="122" width="5" height="14" fill="#e80000"/>
<rect x="1216" y="123" width="3" height="12" fill="#14171c"/>
<rect x="1222" y="94" width="5" height="22" fill="#e80000"/>
<rect x="1223" y="95" width="3" height="20" fill="#14171c"/>
<rect x="1231" y="84" width="1" height="13" fill="#e80000"/>
<rect x="1229" y="81" width="5" height="3" fill="#e80000"/>
<rect x="1230" y="82" width="3" height="1" fill="#14171c"/>
</g>
<polyline fill="none" stroke="#2fc3dc" stroke-width="1" shape-rendering="crispEdges" points="7.5,450.5 50.0,459.5 100.0,468.0 137.5,473.0 157.7,476.3 169.3,475.5 209.3,475.5 250.0,476.2 276.0,479.3 300.0,480.0 337.5,479.2 375.0,478.2 407.5,478.2 430.0,480.0 450.0,482.0 475.0,485.0 500.0,488.0 520.0,489.6 540.0,490.3 557.0,490.8 567.5,491.4 587.5,491.4 612.5,490.8 635.5,490.2 660.0,488.5 680.0,486.8 700.0,484.0 725.0,480.2 750.0,474.7 775.0,468.5 800.0,461.0 825.0,453.5 850.0,443.9 875.3,434.6 900.3,425.1 925.3,415.1 950.4,407.1 975.4,398.1 1000.4,388.8 1022.6,378.0 1042.7,371.5 1062.7,363.5 1080.2,358.5 1090.2,354.4 1105.3,350.2 1125.3,344.7 1145.3,337.2 1155.3,334.7 1167.9,329.5 1180.4,325.5 1197.9,318.1 1217.9,310.6 1231.5,306.0"/>
<polyline fill="none" stroke="#129a48" stroke-width="1" shape-rendering="crispEdges" points="7.5,492.5 25.0,494.2 50.0,497.5 75.0,500.5 100.0,502.5 125.0,503.7 145.0,506.2 170.0,508.2 190.0,508.0 200.0,506.2 225.0,500.5 250.0,496.2 275.0,493.2 300.0,491.0 325.0,487.5 350.0,483.0 375.0,478.8 400.0,474.5 417.5,471.2 435.0,469.2 450.0,469.5 475.0,473.8 500.0,475.5 525.0,476.5 550.0,477.0 562.5,475.8 575.0,475.2 590.0,474.4 600.0,473.3 612.0,472.4 634.0,471.4 648.0,471.6 658.0,472.4 670.7,473.4 704.0,473.4 720.7,469.8 737.3,466.0 750.0,461.4 775.0,452.6 800.0,442.2 825.0,430.8 850.0,417.6 862.7,409.6 875.3,400.6 900.3,381.3 925.3,359.5 946.6,340.0 955.0,332.7 980.0,313.9 1005.0,295.6 1022.6,281.3 1037.7,272.6 1055.2,260.0 1072.7,249.5 1087.7,238.8 1103.0,228.3 1116.8,219.1 1129.1,212.9 1136.7,207.6 1152.1,199.9 1164.4,193.3 1173.6,189.1 1185.9,185.0 1198.1,180.7 1210.4,177.3 1221.2,172.7 1231.5,168.0"/>
<polyline fill="none" stroke="#d035d0" stroke-width="1" shape-rendering="crispEdges" points="7.5,526.4 14.5,527.8 21.5,527.8 28.5,526.0 35.5,523.0 43.5,519.7 50.5,517.2 57.5,516.5 64.5,516.5 72.5,516.2 79.5,514.8 86.5,513.3 93.5,512.0 101.5,510.8 108.5,508.5 115.5,506.0 122.5,503.3 130.5,501.0 137.5,499.2 144.5,497.1 151.5,494.4 159.5,492.1 166.5,491.2 173.5,490.6 180.5,490.1 188.5,489.6 195.5,487.9 202.5,485.5 209.5,482.6 217.5,479.5 224.5,475.9 231.5,472.7 238.5,469.4 246.5,466.3 253.5,464.3 260.5,461.2 267.5,459.1 275.5,458.7 282.5,456.8 289.5,455.0 296.5,453.3 304.5,452.7 311.5,451.5 318.5,451.1 325.5,450.3 333.5,449.6 340.5,450.1 347.5,449.6 354.5,449.5 362.5,449.5 369.5,450.3 376.5,450.6 383.5,451.1 391.5,451.8 398.5,451.4 405.5,452.2 412.5,453.8 420.5,455.1 427.5,455.3 434.5,456.6 441.5,458.7 449.5,461.1 456.5,467.1 463.5,472.0 470.5,478.9 478.5,482.1 485.5,485.4 492.5,489.2 499.5,492.5 507.5,496.9 514.5,501.0 521.5,504.9 528.5,508.5 536.5,511.7 543.5,514.6 550.5,516.7 557.5,517.0 565.5,515.3 572.5,514.2 579.5,512.9 586.5,511.1 594.5,508.4 601.5,502.2 608.5,496.2 615.5,488.5 623.5,484.4 630.5,479.3 637.5,475.2 644.5,471.5 651.5,467.7 659.5,464.4 666.5,461.0 673.5,458.3 680.5,455.7 688.5,452.8 695.5,450.0 702.5,447.0 709.5,442.7 717.5,439.5 724.5,436.1 731.5,430.9 738.5,425.0 746.5,418.3 753.5,411.0 760.5,403.6 767.5,395.9 775.5,389.6 782.5,381.7 789.5,373.7 796.5,364.6 804.5,355.3 811.5,345.6 818.5,335.2 825.5,322.6 833.5,311.1 840.5,300.1 847.5,290.6 854.5,282.0 862.5,272.3 869.5,263.0 876.5,254.5 883.5,248.5 891.5,243.4 898.5,237.4 905.5,231.9 912.5,225.4 920.5,218.4 927.5,212.1 934.5,205.6 941.5,200.3 949.5,195.0 956.5,190.9 963.5,186.1 970.5,184.5 978.5,182.6 985.5,180.0 992.5,176.5 999.5,173.1 1007.5,169.7 1014.5,165.2 1021.5,162.0 1028.5,160.4 1036.5,158.3 1043.5,156.4 1050.5,154.8 1057.5,153.7 1065.5,152.8 1072.5,152.7 1079.5,153.3 1086.5,152.4 1094.5,151.6 1101.5,151.9 1108.5,153.3 1115.5,154.3 1123.5,155.3 1130.5,155.8 1137.5,155.4 1144.5,156.2 1152.5,157.3 1159.5,158.7 1166.5,160.2 1173.5,159.6 1181.5,159.0 1188.5,159.2 1195.5,159.1 1202.5,159.6 1210.5,159.4 1217.5,158.1 1224.5,155.0 1231.5,152.0"/>
<polyline fill="none" stroke="#f0dc2c" stroke-width="1" shape-rendering="crispEdges" points="7.5,532.5 14.5,532.8 21.5,533.5 28.5,530.3 35.5,526.0 43.5,520.9 50.5,516.2 57.5,512.6 64.5,509.0 72.5,503.8 79.5,497.5 86.5,493.6 93.5,492.0 101.5,490.7 108.5,489.4 115.5,489.9 122.5,488.9 130.5,487.6 137.5,489.6 144.5,490.3 151.5,491.3 159.5,490.6 166.5,490.5 173.5,490.5 180.5,490.9 188.5,489.2 195.5,486.9 202.5,483.4 209.5,475.7 217.5,468.6 224.5,460.6 231.5,454.7 238.5,448.2 246.5,442.1 253.5,437.7 260.5,433.1 267.5,431.2 275.5,433.9 282.5,437.9 289.5,441.3 296.5,446.1 304.5,450.6 311.5,454.8 318.5,460.1 325.5,462.9 333.5,466.2 340.5,468.9 347.5,465.2 354.5,461.1 362.5,457.6 369.5,454.5 376.5,450.7 383.5,447.4 391.5,443.4 398.5,439.9 405.5,438.2 412.5,438.6 420.5,445.0 427.5,449.5 434.5,455.5 441.5,462.9 449.5,471.6 456.5,486.7 463.5,500.7 470.5,517.9 478.5,526.0 485.5,532.2 492.5,533.4 499.5,535.5 507.5,538.3 514.5,539.2 521.5,538.2 528.5,530.3 536.5,522.8 543.5,511.4 550.5,507.5 557.5,501.9 565.5,497.2 572.5,492.9 579.5,487.4 586.5,483.1 594.5,478.7 601.5,474.1 608.5,469.6 615.5,465.5 623.5,461.4 630.5,456.8 637.5,453.2 644.5,450.2 651.5,448.0 659.5,445.8 666.5,443.2 673.5,442.6 680.5,441.9 688.5,440.1 695.5,438.7 702.5,437.2 709.5,432.3 717.5,428.8 724.5,424.1 731.5,415.9 738.5,406.8 746.5,393.9 753.5,380.1 760.5,367.1 767.5,353.1 775.5,342.1 782.5,331.0 789.5,318.5 796.5,305.0 804.5,294.7 811.5,284.4 818.5,276.5 825.5,265.0 833.5,255.1 840.5,247.1 847.5,239.2 854.5,233.0 862.5,226.1 869.5,221.1 876.5,214.2 883.5,212.5 891.5,210.3 898.5,209.9 905.5,208.7 912.5,203.7 920.5,197.7 927.5,191.3 934.5,185.1 941.5,179.6 949.5,175.8 956.5,169.2 963.5,161.8 970.5,159.1 978.5,156.5 985.5,156.2 992.5,155.3 999.5,154.9 1007.5,154.2 1014.5,150.9 1021.5,148.2 1028.5,151.6 1036.5,154.7 1043.5,153.7 1050.5,153.1 1057.5,151.1 1065.5,150.3 1072.5,150.5 1079.5,152.4 1086.5,153.9 1094.5,155.0 1101.5,152.1 1108.5,151.8 1115.5,154.8 1123.5,157.7 1130.5,160.5 1137.5,160.6 1144.5,161.9 1152.5,162.1 1159.5,163.5 1166.5,165.4 1173.5,167.1 1181.5,166.1 1188.5,163.6 1195.5,160.5 1202.5,158.7 1210.5,158.2 1217.5,154.2 1224.5,147.9 1231.5,140.6"/>
<polyline fill="none" stroke="#ff8c00" stroke-width="1" shape-rendering="crispEdges" points="7.5,539.5 14.5,539.5 21.5,534.0 28.5,526.0 35.5,512.7 43.5,500.4 50.5,493.0 57.5,492.7 64.5,492.5 72.5,494.9 79.5,494.7 86.5,494.1 93.5,491.2 101.5,488.9 108.5,483.9 115.5,485.1 122.5,483.7 130.5,483.9 137.5,490.3 144.5,496.7 151.5,497.5 159.5,497.6 166.5,497.2 173.5,490.7 180.5,485.0 188.5,481.0 195.5,476.3 202.5,469.6 209.5,460.8 217.5,452.2 224.5,440.2 231.5,433.2 238.5,426.9 246.5,423.5 253.5,423.2 260.5,426.1 267.5,429.2 275.5,441.0 282.5,452.4 289.5,459.5 296.5,466.1 304.5,472.0 311.5,468.6 318.5,467.8 325.5,466.2 333.5,466.2 340.5,465.9 347.5,461.9 354.5,454.4 362.5,449.1 369.5,442.8 376.5,435.4 383.5,432.9 391.5,432.4 398.5,430.8 405.5,433.6 412.5,441.9 420.5,457.1 427.5,466.6 434.5,480.2 441.5,492.2 449.5,501.3 456.5,516.3 463.5,534.7 470.5,555.6 478.5,559.8 485.5,563.0 492.5,550.5 499.5,536.3 507.5,521.0 514.5,518.6 521.5,513.3 528.5,510.1 536.5,509.4 543.5,501.7 550.5,496.4 557.5,490.4 565.5,484.3 572.5,476.4 579.5,473.1 586.5,469.8 594.5,467.0 601.5,463.9 608.5,462.7 615.5,458.0 623.5,453.0 630.5,446.5 637.5,442.5 644.5,437.6 651.5,438.0 659.5,438.5 666.5,439.9 673.5,442.7 680.5,446.1 688.5,442.1 695.5,438.9 702.5,434.5 709.5,421.9 717.5,411.5 724.5,406.2 731.5,393.0 738.5,379.0 746.5,365.9 753.5,348.6 760.5,328.0 767.5,313.2 775.5,305.1 782.5,296.1 789.5,288.4 796.5,282.0 804.5,276.3 811.5,263.7 818.5,256.8 825.5,241.7 833.5,228.2 840.5,218.0 847.5,214.6 854.5,209.1 862.5,210.5 869.5,213.9 876.5,210.4 883.5,210.5 891.5,211.6 898.5,209.2 905.5,203.5 912.5,196.9 920.5,185.0 927.5,171.0 934.5,161.0 941.5,155.7 949.5,154.6 956.5,153.4 963.5,152.6 970.5,157.1 978.5,157.3 985.5,157.9 992.5,157.2 999.5,157.1 1007.5,151.3 1014.5,144.4 1021.5,138.6 1028.5,146.0 1036.5,152.3 1043.5,156.1 1050.5,161.7 1057.5,163.6 1065.5,154.7 1072.5,148.7 1079.5,148.8 1086.5,146.1 1094.5,146.3 1101.5,149.5 1108.5,155.0 1115.5,160.9 1123.5,169.2 1130.5,174.7 1137.5,171.6 1144.5,168.8 1152.5,163.3 1159.5,157.8 1166.5,156.0 1173.5,162.5 1181.5,163.4 1188.5,163.8 1195.5,163.2 1202.5,161.4 1210.5,153.9 1217.5,145.0 1224.5,131.9 1231.5,117.9"/>
<text x="1148.5" y="87" fill="#f83040" textLength="63.5" lengthAdjust="spacingAndGlyphs">3344.70</text>
<path d="M1212 80.5H1231.5M1227 76.5L1231.5 80.5L1227 84.5" fill="none" stroke="#d0d0d0" stroke-width="1"/>
<text x="387.2" y="610" fill="#1ec455" textLength="64.2" lengthAdjust="spacingAndGlyphs">2284.72</text>
<path d="M451 603.5H470.5M466 599.5L470.5 603.5L466 607.5" fill="none" stroke="#d0d0d0" stroke-width="1"/>
<text x="6.2" y="23.0" fill="#ffffff" class="r1" textLength="67.9" lengthAdjust="spacingAndGlyphs">KS11.KS</text>
<text x="74.6" y="23.0" fill="#ffffff" class="r1" textLength="4.8" lengthAdjust="spacingAndGlyphs">[</text>
<text x="79.4" y="22.9" fill="#ffffff" class="cj" textLength="108.7" lengthAdjust="spacingAndGlyphs">韩国综合指数</text>
<text x="188.0" y="23.0" fill="#ffffff" class="r1" textLength="5.5" lengthAdjust="spacingAndGlyphs">]</text>
<text x="212.2" y="23.0" fill="#ffffff" class="r1" textLength="102.4" lengthAdjust="spacingAndGlyphs">2025/09/11</text>
<text x="329.4" y="22.9" fill="#ffffff" class="cj" textLength="17.9" lengthAdjust="spacingAndGlyphs">收</text>
<text x="350.6" y="23.0" fill="#f83040" class="r1" textLength="69.2" lengthAdjust="spacingAndGlyphs">3344.20</text>
<text x="433.6" y="22.9" fill="#ffffff" class="cj" textLength="17.8" lengthAdjust="spacingAndGlyphs">幅</text>
<text x="454.2" y="23.0" fill="#f83040" class="r1" textLength="113.0" lengthAdjust="spacingAndGlyphs">0.90%(29.67)</text>
<text x="579.4" y="22.9" fill="#ffffff" class="cj" textLength="18.7" lengthAdjust="spacingAndGlyphs">开</text>
<text x="601.4" y="23.0" fill="#f83040" class="r1" textLength="70.2" lengthAdjust="spacingAndGlyphs">3336.60</text>
<text x="683.6" y="22.9" fill="#ffffff" class="cj" textLength="18.7" lengthAdjust="spacingAndGlyphs">高</text>
<text x="705.5" y="23.0" fill="#f83040" class="r1" textLength="69.5" lengthAdjust="spacingAndGlyphs">3344.70</text>
<text x="787.4" y="22.9" fill="#ffffff" class="cj" textLength="19.0" lengthAdjust="spacingAndGlyphs">低</text>
<text x="809.2" y="23.0" fill="#1ec455" class="r1" textLength="70.0" lengthAdjust="spacingAndGlyphs">3311.86</text>
<text x="891.9" y="22.9" fill="#ffffff" class="cj" textLength="18.6" lengthAdjust="spacingAndGlyphs">换</text>
<text x="913.4" y="23.0" fill="#ffffff" class="r1" textLength="52.8" lengthAdjust="spacingAndGlyphs">0.00%</text>
<text x="978.4" y="22.9" fill="#ffffff" class="cj" textLength="18.6" lengthAdjust="spacingAndGlyphs">振</text>
<text x="1000.0" y="23.0" fill="#ffffff" class="r1" textLength="53.3" lengthAdjust="spacingAndGlyphs">0.99%</text>
<text x="1065.4" y="22.9" fill="#ffffff" class="cj" textLength="19.2" lengthAdjust="spacingAndGlyphs">额</text>
<text x="1086.5" y="23.0" fill="#ffffff" class="r1" textLength="11.3" lengthAdjust="spacingAndGlyphs">0</text>
<text x="6.2" y="49.2" fill="#ffffff" textLength="38.8" lengthAdjust="spacingAndGlyphs">MA5</text>
<text x="51.7" y="49.2" fill="#ff8c00" textLength="62.9" lengthAdjust="spacingAndGlyphs">3268.70</text>
<text x="110.2" y="49.1" fill="#ff8c00" style="font-family:'Noto Sans CJK SC',sans-serif;font-size:18px;stroke:none">↑</text>
<text x="130.0" y="49.2" fill="#ffffff" textLength="49.1" lengthAdjust="spacingAndGlyphs">MA10</text>
<text x="185.5" y="49.2" fill="#f2e33a" textLength="64.1" lengthAdjust="spacingAndGlyphs">3223.00</text>
<text x="245.2" y="49.1" fill="#f2e33a" style="font-family:'Noto Sans CJK SC',sans-serif;font-size:18px;stroke:none">↑</text>
<text x="264.5" y="49.2" fill="#ffffff" textLength="47.6" lengthAdjust="spacingAndGlyphs">MA20</text>
<text x="319.5" y="49.2" fill="#d13fd1" textLength="63.7" lengthAdjust="spacingAndGlyphs">3199.89</text>
<text x="378.7" y="49.1" fill="#d13fd1" style="font-family:'Noto Sans CJK SC',sans-serif;font-size:18px;stroke:none">↑</text>
<text x="398.5" y="49.2" fill="#ffffff" textLength="48.8" lengthAdjust="spacingAndGlyphs">MA60</text>
<text x="453.1" y="49.2" fill="#129a48" textLength="62.9" lengthAdjust="spacingAndGlyphs">3167.17</text>
<text x="511.9" y="49.1" fill="#129a48" style="font-family:'Noto Sans CJK SC',sans-serif;font-size:18px;stroke:none">↑</text>
<text x="532.5" y="49.2" fill="#ffffff" textLength="59.1" lengthAdjust="spacingAndGlyphs">MA120</text>
<text x="597.2" y="49.2" fill="#2fc3dc" textLength="63.6" lengthAdjust="spacingAndGlyphs">2888.49</text>
<text x="656.0" y="49.1" fill="#2fc3dc" style="font-family:'Noto Sans CJK SC',sans-serif;font-size:18px;stroke:none">↑</text>
<text x="1039.5" y="49.2" fill="#ffffff" textLength="254.8" lengthAdjust="spacingAndGlyphs">2025/01/02-2025/09/11(170日)</text>
<rect x="1040" y="50" width="254" height="1" fill="#ffffff" shape-rendering="crispEdges"/>
<path d="M1294.7 35.4H1313L1303.9 49.4Z" fill="#9b9b9b"/>
<rect x="1321" y="40.8" width="13.1" height="10.2" rx="1.6" fill="#efb83f"/>
<path d="M1333 40V38.5A3.25 3.25 0 0 1 1339.5 38.5V40" fill="none" stroke="#efb83f" stroke-width="1.25"/>
<path d="M1327.5 44.5v4" stroke="#14171c" stroke-width="1.4"/><circle cx="1327.5" cy="45" r="1.5" fill="#14171c"/>
<rect x="1322.8" y="7.8" width="18.4" height="13.9" fill="none" stroke="#a2a2a2" stroke-width="1.6"/>
<rect x="1331" y="22" width="2" height="2.5" fill="#a2a2a2"/><rect x="1325" y="24" width="14" height="1.9" fill="#a2a2a2"/>
<text x="1324.6" y="18.9" fill="#b6b6b6" style="font-size:9.7px;font-weight:bold;stroke:none" textLength="15.2" lengthAdjust="spacingAndGlyphs">WP</text>
</svg></body></html>
